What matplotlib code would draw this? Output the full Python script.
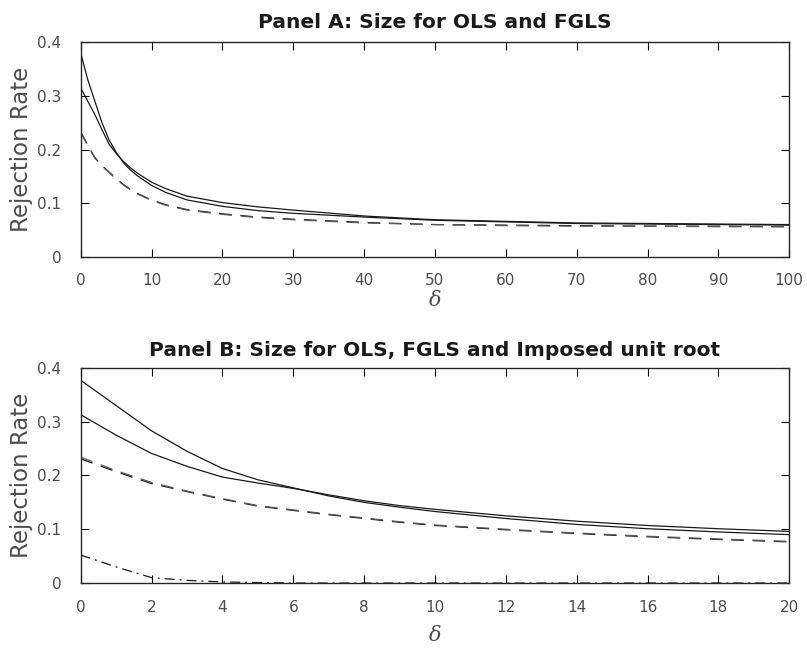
import numpy as np
import matplotlib
matplotlib.use('Agg')
import matplotlib.pyplot as plt

plt.rcParams['font.family'] = ['DejaVu Sans']

# Panel A: size for OLS and FGLS
xa = [0, 1, 2, 3, 4, 5, 6, 7, 8, 10, 12, 15, 20, 25, 30, 40, 50, 60, 70, 80, 90, 100]
a_ols1 = [0.38, 0.33, 0.29, 0.25, 0.218, 0.195, 0.176, 0.162, 0.151, 0.133, 0.12, 0.106,
          0.094, 0.086, 0.081, 0.074, 0.068, 0.065, 0.062, 0.061, 0.06, 0.059]
a_ols2 = [0.315, 0.29, 0.265, 0.237, 0.21, 0.193, 0.178, 0.166, 0.156, 0.139, 0.127, 0.113,
          0.101, 0.093, 0.087, 0.076, 0.069, 0.066, 0.063, 0.062, 0.061, 0.06]
a_fgls1 = [0.233, 0.208, 0.185, 0.17, 0.158, 0.146, 0.135, 0.126, 0.118, 0.106, 0.097, 0.088,
           0.08, 0.074, 0.07, 0.064, 0.06, 0.059, 0.058, 0.057, 0.057, 0.056]
a_fgls2 = [0.231, 0.207, 0.184, 0.169, 0.157, 0.145, 0.134, 0.125, 0.117, 0.105, 0.096, 0.087,
           0.079, 0.073, 0.069, 0.063, 0.06, 0.058, 0.057, 0.057, 0.056, 0.056]

# Panel B: size for OLS, FGLS and imposed unit root
xb = [0, 1, 2, 3, 4, 5, 6, 7, 8, 9, 10, 12, 14, 16, 18, 20]
b_ols1 = [0.377, 0.33, 0.283, 0.245, 0.213, 0.192, 0.177, 0.162, 0.15, 0.141, 0.133,
          0.12, 0.109, 0.101, 0.095, 0.09]
b_ols2 = [0.313, 0.275, 0.241, 0.217, 0.197, 0.186, 0.176, 0.164, 0.153, 0.144, 0.137,
          0.125, 0.115, 0.107, 0.101, 0.096]
b_fgls1 = [0.231, 0.207, 0.185, 0.17, 0.156, 0.143, 0.135, 0.127, 0.12, 0.113, 0.107,
           0.099, 0.092, 0.086, 0.081, 0.0765]
b_fgls2 = [0.234, 0.209, 0.187, 0.171, 0.157, 0.144, 0.136, 0.128, 0.121, 0.114, 0.108,
           0.1, 0.093, 0.087, 0.082, 0.0775]
b_unit = [0.052, 0.03, 0.01, 0.005, 0.002, 0.001, 0, 0, 0, 0, 0, 0, 0, 0, 0, 0]

fig = plt.figure(figsize=(8.07, 6.5), dpi=100)
axA = fig.add_axes([0.100, 0.605, 0.878, 0.330])
axB = fig.add_axes([0.100, 0.103, 0.878, 0.331])

lw = 0.9
dsh = (10, 7)
axA.plot(xa, a_ols1, '-', color='0.1', lw=lw)
axA.plot(xa, a_ols2, '-', color='0.1', lw=lw)
axA.plot(xa, a_fgls1, '--', color='0.1', lw=lw, dashes=dsh)
axA.plot(xa, a_fgls2, '--', color='0.35', lw=lw, dashes=dsh)

axB.plot(xb, b_ols1, '-', color='0.1', lw=lw)
axB.plot(xb, b_ols2, '-', color='0.1', lw=lw)
axB.plot(xb, b_fgls1, '--', color='0.1', lw=lw, dashes=dsh)
axB.plot(xb, b_fgls2, '--', color='0.35', lw=lw, dashes=dsh)
axB.plot(xb, b_unit, '-.', color='0.1', lw=lw, dashes=(8, 4, 1.5, 4))

def style(ax, xmax, xstep, title, tpad, xpad):
    ax.set_xlim(0, xmax)
    ax.set_ylim(0, 0.4)
    ax.set_xticks(np.arange(0, xmax + 1, xstep))
    ax.set_yticks([0, 0.1, 0.2, 0.3, 0.4])
    ax.set_yticklabels(['0', '0.1', '0.2', '0.3', '0.4'])
    ax.tick_params(direction='in', top=True, right=True, labelsize=11,
                   labelcolor='0.3', length=6, width=0.8)
    ax.tick_params(axis='y', pad=14)
    ax.tick_params(axis='x', pad=12)
    for s in ax.spines.values():
        s.set_linewidth(1.0)
        s.set_color('0.15')
    ax.set_title(title, fontsize=14.5, fontweight='bold', pad=tpad, color='0.1')
    ax.set_ylabel('Rejection Rate', fontsize=16.5, color='0.3')
    ax.yaxis.set_label_coords(-0.068, 0.5)
    ax.set_xlabel('δ', fontsize=15, family='DejaVu Serif', style='italic',
                  color='0.3', labelpad=xpad)

style(axA, 100, 10, 'Panel A: Size for OLS and FGLS', 10, 2)
style(axB, 20, 2, 'Panel B: Size for OLS, FGLS and Imposed unit root', 8.5, 8)

fig.savefig('out.png', dpi=100)
